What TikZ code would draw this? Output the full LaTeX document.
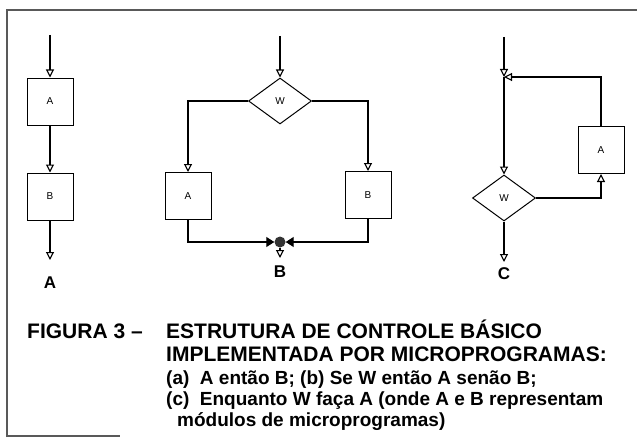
\documentclass[tikz,border=0pt]{standalone}
\usepackage{fontspec}
\setmainfont{Liberation Sans}
\usetikzlibrary{shapes.geometric,arrows.meta,positioning}

\begin{document}
\begin{tikzpicture}[x=1pt, y=-1pt, every node/.style={font=\small},
  block/.style={rectangle, draw, line width=1pt, minimum width=46pt,
                minimum height=47pt, inner sep=0pt, font=\fontsize{10}{12}\selectfont},
  test/.style={diamond, draw, line width=1pt, minimum width=63pt,
               minimum height=46pt, inner sep=0pt, font=\fontsize{10}{12}\selectfont},
  arrow/.style={-{Triangle[open, length=8pt, width=8pt]}, line width=1.1pt},
  merge/.style={-{Triangle[length=8pt, width=10pt]}, line width=1.1pt},
  joint/.style={circle, fill=black!80, minimum size=11pt, inner sep=0pt},
  tag/.style={font=\bfseries\fontsize{17}{20}\selectfont},
  caption/.style={anchor=base west, inner sep=0pt, font=\bfseries\fontsize{21}{24}\selectfont},
  item/.style={caption, font=\bfseries\fontsize{19}{22}\selectfont},
  frame/.style={line width=1.4pt, black!65}]
  \useasboundingbox (0,0) rectangle (637,444);
  \draw[frame] (7,437) -- (7,10) -- (637,10);
  \draw[frame] (7,436) -- (120,436);
  % (a) A entao B
  \coordinate (ain) at (50,35);
  \node[block] (aA) at (50,101.5) {A};
  \node[block] (aB) at (50,196.5) {B};
  \coordinate (aout) at (50,260);
  \node[tag] (aT) at (50,283) {A};
  \draw[arrow] (ain) -- (aA);
  \draw[arrow] (aA) -- (aB);
  \draw[arrow] (aB) -- (aout);
  % (b) se W entao A senao B
  \coordinate (bin) at (280,36);
  \node[test] (bW) at (280,101) {W};
  \node[block] (bA) at (188,196) {A};
  \node[block] (bB) at (368,195) {B};
  \node[joint] (bJ) at (280,242) {};
  \coordinate (bout) at (280,258);
  \node[tag] (bT) at (280,272) {B};
  \draw[arrow] (bin) -- (bW);
  \draw[arrow] (bW.west) -| (bA);
  \draw[arrow] (bW.east) -| (bB);
  \draw[merge] (bA) |- (bJ);
  \draw[merge] (bB) |- (bJ);
  \draw[arrow] (bJ) -- (bout);
  % (c) enquanto W faca A
  \coordinate (cin) at (504,37);
  \coordinate (cM) at (504,77);
  \node[test] (cW) at (504,198) {W};
  \node[block] (cA) at (601,150) {A};
  \coordinate (cout) at (504,262);
  \node[tag] (cT) at (504,274) {C};
  \draw[arrow] (cin) -- (cM);
  \draw[arrow] (cM) -- (cW);
  \draw[arrow] (cW.east) -| (cA);
  \draw[arrow] (cA) |- (cM);
  \draw[arrow] (cW) -- (cout);
  % legenda
  \node[caption] (fig) at (27,338) {FIGURA 3 --};
  \node[caption] (t1) at (166,338) {ESTRUTURA DE CONTROLE BÁSICO};
  \node[caption] (t2) at (166,361) {IMPLEMENTADA POR MICROPROGRAMAS:};
  \node[item] (t3) at (166,384) {(a)\ \ A então B; (b) Se W então A senão B;};
  \node[item] (t4) at (166,405) {(c)\ \ Enquanto W faça A (onde A e B representam};
  \node[item] (t5) at (177,426) {módulos de microprogramas)};
\end{tikzpicture}
\end{document}
